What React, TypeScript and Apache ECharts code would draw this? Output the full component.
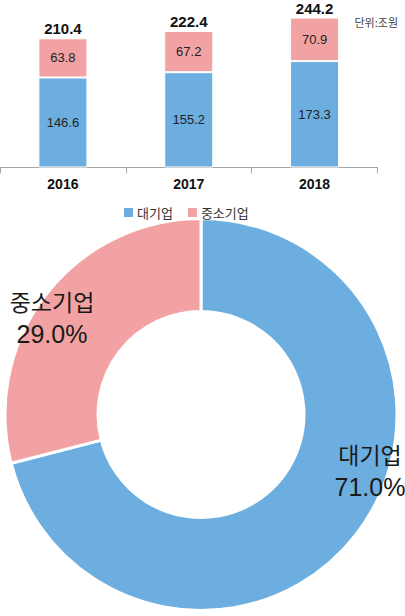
import React, { useEffect, useRef } from "react";
import * as echarts from "echarts";

const years = ["2016", "2017", "2018"];
const largeCorp = [146.6, 155.2, 173.3];
const smeCorp = [63.8, 67.2, 70.9];
const totals = [210.4, 222.4, 244.2];
const shareNames = ["대기업", "중소기업"];
const shareValues = [71.0, 29.0];
const unitText = "단위:조원";

const BLUE = "#6daee0";
const PINK = "#f2a2a2";
const LATIN = "'Liberation Sans', Arial, sans-serif";
const KR = "'Noto Sans CJK KR', 'Noto Sans', sans-serif";

export default function App() {
  const ref = useRef<HTMLDivElement>(null);
  useEffect(() => {
    if (!ref.current) return;
    const chart = echarts.init(ref.current, null, { renderer: "svg" });
    const labelShift = [
      { dx: 48.5, dy: -37 },
      { dx: -28.5, dy: -4 },
    ];
    chart.setOption({
      animation: false,
      backgroundColor: "#fff",
      color: [BLUE, PINK],
      title: {
        text: unitText,
        right: 2,
        top: 11,
        textStyle: { fontSize: 11, fontWeight: "normal", color: "#444", fontFamily: KR },
      },
      legend: {
        data: shareNames,
        left: 117,
        top: 201,
        itemWidth: 11,
        itemHeight: 11,
        itemGap: 13,
        icon: "rect",
        textStyle: { fontSize: 13, color: "#333", fontFamily: KR, padding: [0, 0, 0, -2] },
      },
      grid: { left: -10, width: 387.5, top: 14, height: 153.5 },
      xAxis: {
        type: "category",
        data: years,
        axisLine: { lineStyle: { color: "#a6a6a6", width: 1 } },
        axisTick: { show: true, length: 6, lineStyle: { color: "#a6a6a6" } },
        axisLabel: { margin: 9, fontSize: 14, fontWeight: "bold", color: "#111", fontFamily: LATIN },
      },
      yAxis: {
        type: "value",
        min: 0,
        max: 250,
        show: false,
        splitLine: { show: false },
      },
      series: [
        {
          name: shareNames[0],
          type: "bar",
          stack: "t",
          barWidth: 49,
          data: largeCorp,
          itemStyle: { color: BLUE, borderColor: "#fff", borderWidth: 1 },
          label: { show: true, position: "inside", fontSize: 13, color: "#222", fontFamily: LATIN },
        },
        {
          name: shareNames[1],
          type: "bar",
          stack: "t",
          barWidth: 49,
          data: smeCorp,
          itemStyle: { color: PINK, borderColor: "#fff", borderWidth: 1 },
          label: { show: true, position: "inside", fontSize: 13, color: "#222", fontFamily: LATIN },
        },
        {
          name: "합계",
          type: "bar",
          stack: "t",
          barWidth: 49,
          data: totals.map(() => 0),
          itemStyle: { color: "rgba(0,0,0,0)" },
          label: {
            show: true,
            position: "top",
            distance: 2,
            fontSize: 15,
            fontWeight: "bold",
            color: "#111",
            fontFamily: LATIN,
            formatter: (p: any) => totals[p.dataIndex].toFixed(1),
          },
        },
        {
          name: "비중",
          type: "pie",
          center: [201, 414.5],
          radius: [103, 196],
          startAngle: 90,
          clockwise: true,
          data: shareNames.map((n, i) => ({ name: n, value: shareValues[i] })),
          itemStyle: { borderColor: "#fff", borderWidth: 3 },
          label: {
            show: true,
            position: "inside",
            formatter: (p: any) => `{n|${p.name}}\n{v|${p.value.toFixed(1)}%}`,
            rich: {
              n: { fontSize: 23, fontFamily: KR, color: "#1a1a1a", lineHeight: 33, align: "center" },
              v: { fontSize: 25, fontFamily: LATIN, color: "#1a1a1a", lineHeight: 33, align: "center" },
            },
          },
          labelLine: { show: false },
          labelLayout: (p: any) => labelShift[p.dataIndex],
          emphasis: { disabled: true },
        },
      ],
    });
    return () => chart.dispose();
  }, []);
  return (
    <div
      ref={ref}
      style={{ position: "fixed", left: 0, top: 0, width: 405, height: 616, background: "#fff" }}
    />
  );
}
